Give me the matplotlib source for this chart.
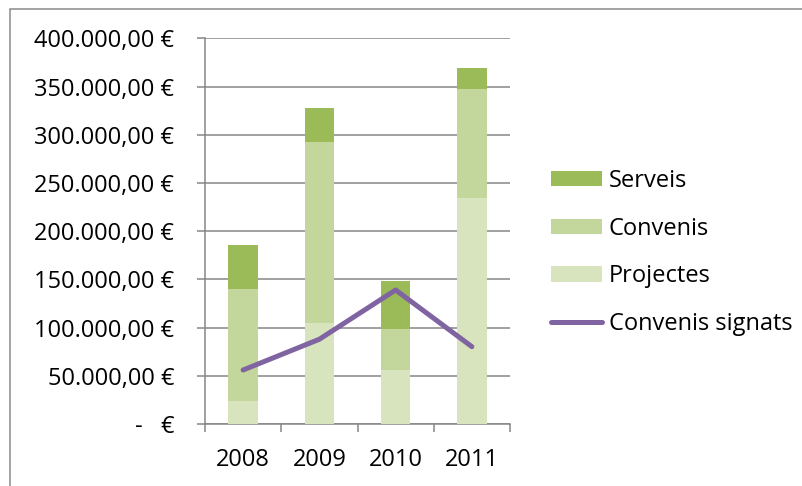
import matplotlib
matplotlib.use("Agg")
import matplotlib.pyplot as plt
from matplotlib.patches import Rectangle

years = ["2008", "2009", "2010", "2011"]
projectes = [24200, 104800, 56000, 234100]
convenis = [115500, 187400, 42500, 113400]
serveis = [46000, 35300, 50200, 21500]
convenis_signats = [56000, 87900, 139000, 80200]
yticks = [0, 50000, 100000, 150000, 200000, 250000, 300000, 350000, 400000]
ytick_labels = ["-   €", "50.000,00 €", "100.000,00 €", "150.000,00 €", "200.000,00 €",
                "250.000,00 €", "300.000,00 €", "350.000,00 €", "400.000,00 €"]

plt.rcParams['font.family'] = ['Open Sans', 'DejaVu Sans']
FS = 17

W, H = 802, 486
fig = plt.figure(figsize=(W / 100, H / 100), dpi=100)
fig.patch.set_facecolor("white")

# chart-area border (left and top visible)
fig.add_artist(Rectangle((9.5 / W, -0.1), 1.2, 1.1 - 9.5 / H, transform=fig.transFigure,
                         fill=False, edgecolor="#8a8a8a", linewidth=1.1))

ax = fig.add_axes([205 / W, (H - 424) / H, 305 / W, (424 - 38.3) / H])

x = list(range(len(years)))
c_proj, c_conv, c_serv = "#D7E4BD", "#C3D69B", "#9BBB59"
bw = 0.39
b1 = ax.bar(x, projectes, width=bw, color=c_proj, label="Projectes", zorder=3)
b2 = ax.bar(x, convenis, width=bw, bottom=projectes, color=c_conv, label="Convenis", zorder=3)
bottom3 = [p + c for p, c in zip(projectes, convenis)]
b3 = ax.bar(x, serveis, width=bw, bottom=bottom3, color=c_serv, label="Serveis", zorder=3)
ln, = ax.plot(x, convenis_signats, color="#8064A2", linewidth=3.6, solid_capstyle="round",
              solid_joinstyle="round", label="Convenis signats", zorder=4)

ax.set_xlim(-0.5, 3.5)
ax.set_ylim(0, 400000)
ax.set_yticks(yticks)
ax.set_yticklabels(ytick_labels, fontsize=FS)
ax.set_xticks(x)
ax.set_xticklabels(years, fontsize=FS)
ax.set_xticks([-0.5, 0.5, 1.5, 2.5, 3.5], minor=True)

gray = "#868686"
ax.yaxis.grid(True, color=gray, linewidth=1.1, zorder=1)
ax.set_axisbelow(True)
for s in ["top", "right"]:
    ax.spines[s].set_visible(False)
for s in ["left", "bottom"]:
    ax.spines[s].set_color(gray)
    ax.spines[s].set_linewidth(1.1)
ax.tick_params(axis="y", which="major", length=5.8, width=1.1, color=gray, pad=16.5, labelcolor="black")
ax.tick_params(axis="x", which="major", length=0, pad=17, labelcolor="black")
ax.tick_params(axis="x", which="minor", length=5.8, width=1.1, color=gray)

handles = [b3, b2, b1, ln]
leg = fig.legend(handles, [h.get_label() for h in handles], loc="upper left",
                 bbox_to_anchor=(551 / W, 1 - 169 / H), frameon=False, fontsize=FS,
                 handlelength=2.15, handleheight=0.62, handletextpad=0.3,
                 labelspacing=1.0, borderaxespad=0, borderpad=0)

fig.savefig("out.png", dpi=100, facecolor="white")
